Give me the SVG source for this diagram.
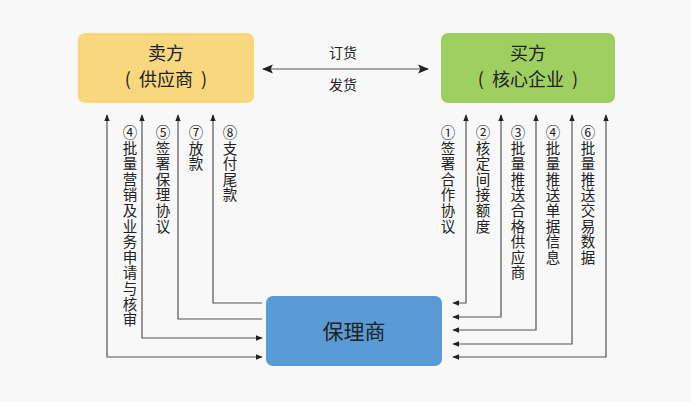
<svg xmlns="http://www.w3.org/2000/svg" width="691" height="402" viewBox="0 0 691 402">
<defs>
<marker id="ah" viewBox="0 0 10 10" refX="9" refY="5" markerWidth="7" markerHeight="7" markerUnits="userSpaceOnUse" orient="auto-start-reverse">
<path d="M0,1 L10,5 L0,9 Z" fill="#222"/>
</marker>
<marker id="ahb" viewBox="0 0 10 10" refX="9" refY="5" markerWidth="11" markerHeight="11" markerUnits="userSpaceOnUse" orient="auto-start-reverse">
<path d="M0,1 L10,5 L0,9 L2,5 Z" fill="#222"/>
</marker>
</defs>
<style>
text{font-family:"Noto Sans CJK SC","Noto Sans",sans-serif;fill:#222;}
.box{font-size:18px;text-anchor:middle;}
.lbl{font-size:14px;text-anchor:middle;}
.v{font-size:14.5px;text-anchor:middle;}
.c{fill:none;stroke:#555;stroke-width:1.2;}
</style>
<rect width="691" height="402" fill="#f8f8f8"/>
<g id="seller">
<rect x="78" y="33" width="176" height="70" rx="7" fill="#f8d77e"/>
<text class="box" x="166" y="60">卖方</text>
<text class="box" x="166" y="86" xml:space="preserve">(  供应商  )</text>
</g>
<g id="buyer">
<rect x="441" y="33" width="174" height="70" rx="7" fill="#9fcf60"/>
<text class="box" x="528" y="60">买方</text>
<text class="box" x="528" y="86" xml:space="preserve">(  核心企业  )</text>
</g>
<g id="factor">
<rect x="266" y="296" width="176" height="70" rx="7" fill="#5b9bd5"/>
<text class="box" x="354" y="339" style="font-size:21px">保理商</text>
</g>
<g id="connectors">
<line class="c" x1="263" y1="69" x2="428" y2="69" marker-start="url(#ahb)" marker-end="url(#ahb)"/>
<path class="c" d="M107,115 V357 H262" marker-start="url(#ah)" marker-end="url(#ah)"/>
<path class="c" d="M142,115 V338 H262" marker-start="url(#ah)" marker-end="url(#ah)"/>
<path class="c" d="M262,319 H178 V115" marker-end="url(#ah)"/>
<path class="c" d="M262,303 H213 V115" marker-end="url(#ah)"/>
<path class="c" d="M466,115 V303 H453" marker-start="url(#ah)" marker-end="url(#ah)"/>
<path class="c" d="M501,115 V317 H453" marker-start="url(#ah)" marker-end="url(#ah)"/>
<path class="c" d="M536,115 V330 H453" marker-start="url(#ah)" marker-end="url(#ah)"/>
<path class="c" d="M572,115 V344 H453" marker-start="url(#ah)" marker-end="url(#ah)"/>
<path class="c" d="M606,115 V357 H453" marker-start="url(#ah)" marker-end="url(#ah)"/>
</g>
<g id="labels">
<text class="lbl" x="343" y="58">订货</text>
<text class="lbl" x="343" y="90">发货</text>
<text class="v"><tspan x="130" y="138">④</tspan><tspan x="130" dy="15.6">批</tspan><tspan x="130" dy="15.6">量</tspan><tspan x="130" dy="15.6">营</tspan><tspan x="130" dy="15.6">销</tspan><tspan x="130" dy="15.6">及</tspan><tspan x="130" dy="15.6">业</tspan><tspan x="130" dy="15.6">务</tspan><tspan x="130" dy="15.6">申</tspan><tspan x="130" dy="15.6">请</tspan><tspan x="130" dy="15.6">与</tspan><tspan x="130" dy="15.6">核</tspan><tspan x="130" dy="15.6">审</tspan></text>
<text class="v"><tspan x="163" y="138">⑤</tspan><tspan x="163" dy="15.6">签</tspan><tspan x="163" dy="15.6">署</tspan><tspan x="163" dy="15.6">保</tspan><tspan x="163" dy="15.6">理</tspan><tspan x="163" dy="15.6">协</tspan><tspan x="163" dy="15.6">议</tspan></text>
<text class="v"><tspan x="196" y="138">⑦</tspan><tspan x="196" dy="15.6">放</tspan><tspan x="196" dy="15.6">款</tspan></text>
<text class="v"><tspan x="230" y="138">⑧</tspan><tspan x="230" dy="15.6">支</tspan><tspan x="230" dy="15.6">付</tspan><tspan x="230" dy="15.6">尾</tspan><tspan x="230" dy="15.6">款</tspan></text>
<text class="v"><tspan x="448" y="138">①</tspan><tspan x="448" dy="15.6">签</tspan><tspan x="448" dy="15.6">署</tspan><tspan x="448" dy="15.6">合</tspan><tspan x="448" dy="15.6">作</tspan><tspan x="448" dy="15.6">协</tspan><tspan x="448" dy="15.6">议</tspan></text>
<text class="v"><tspan x="483" y="138">②</tspan><tspan x="483" dy="15.6">核</tspan><tspan x="483" dy="15.6">定</tspan><tspan x="483" dy="15.6">间</tspan><tspan x="483" dy="15.6">接</tspan><tspan x="483" dy="15.6">额</tspan><tspan x="483" dy="15.6">度</tspan></text>
<text class="v"><tspan x="518" y="138">③</tspan><tspan x="518" dy="15.6">批</tspan><tspan x="518" dy="15.6">量</tspan><tspan x="518" dy="15.6">推</tspan><tspan x="518" dy="15.6">送</tspan><tspan x="518" dy="15.6">合</tspan><tspan x="518" dy="15.6">格</tspan><tspan x="518" dy="15.6">供</tspan><tspan x="518" dy="15.6">应</tspan><tspan x="518" dy="15.6">商</tspan></text>
<text class="v"><tspan x="553" y="138">④</tspan><tspan x="553" dy="15.6">批</tspan><tspan x="553" dy="15.6">量</tspan><tspan x="553" dy="15.6">推</tspan><tspan x="553" dy="15.6">送</tspan><tspan x="553" dy="15.6">单</tspan><tspan x="553" dy="15.6">据</tspan><tspan x="553" dy="15.6">信</tspan><tspan x="553" dy="15.6">息</tspan></text>
<text class="v"><tspan x="588" y="138">⑥</tspan><tspan x="588" dy="15.6">批</tspan><tspan x="588" dy="15.6">量</tspan><tspan x="588" dy="15.6">推</tspan><tspan x="588" dy="15.6">送</tspan><tspan x="588" dy="15.6">交</tspan><tspan x="588" dy="15.6">易</tspan><tspan x="588" dy="15.6">数</tspan><tspan x="588" dy="15.6">据</tspan></text>
</g>
</svg>
